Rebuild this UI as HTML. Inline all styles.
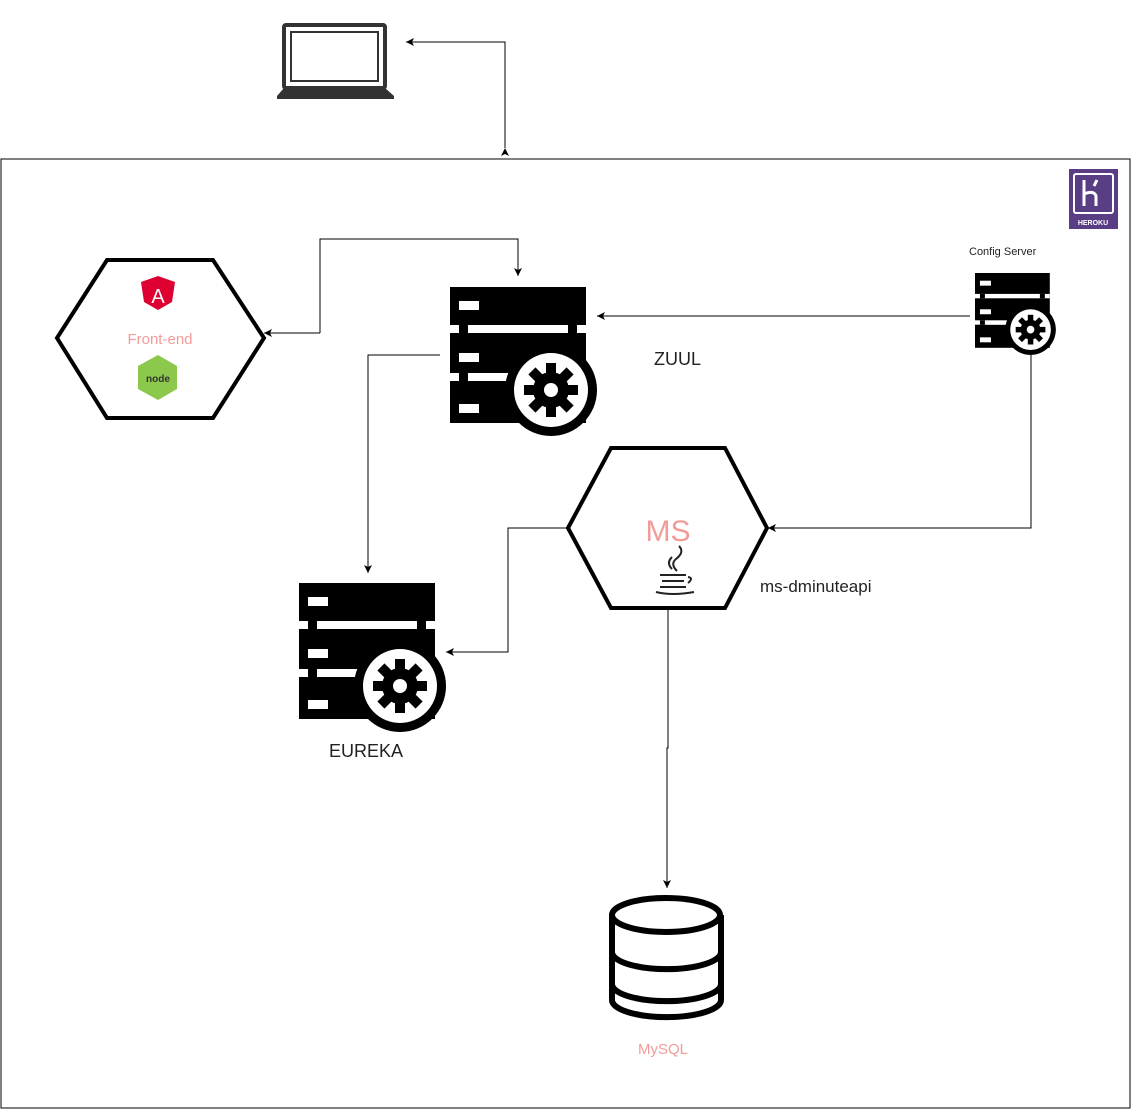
<!DOCTYPE html>
<html><head><style>body{margin:0;background:#fff}svg{display:block;font-family:"Liberation Sans",Arial,sans-serif}</style></head>
<body>
<svg width="1142" height="1110" viewBox="0 0 1142 1110">
<defs>
<marker id="a" markerWidth="9" markerHeight="9" refX="8" refY="4.5" orient="auto" markerUnits="userSpaceOnUse"><path d="M0,0.5 L8,4.5 L0,8.5 L2,4.5z" fill="#000"/></marker>
<g id="srv">
<rect x="0" y="0" width="136" height="136" fill="#000"/>
<rect x="0" y="38" width="136" height="8" fill="#fff"/>
<rect x="0" y="86" width="136" height="8" fill="#fff"/>
<rect x="9" y="38" width="9" height="8" fill="#000"/><rect x="118" y="38" width="9" height="8" fill="#000"/>
<rect x="9" y="86" width="9" height="8" fill="#000"/>
<rect x="9" y="14" width="20" height="9" fill="#fff"/>
<rect x="9" y="66" width="20" height="9" fill="#fff"/>
<rect x="9" y="117" width="20" height="9" fill="#fff"/>
<rect x="20" y="88" width="46" height="6" fill="#fff"/>
<circle cx="101" cy="103" r="46" fill="#000"/>
<circle cx="101" cy="103" r="37" fill="#fff"/>
<g transform="translate(101,103)" fill="#000">
<circle r="18"/>
<g id="t"><rect x="-5" y="-27" width="10" height="12"/></g>
<use href="#t" transform="rotate(45)"/><use href="#t" transform="rotate(90)"/><use href="#t" transform="rotate(135)"/>
<use href="#t" transform="rotate(180)"/><use href="#t" transform="rotate(225)"/><use href="#t" transform="rotate(270)"/><use href="#t" transform="rotate(315)"/>
<circle r="7" fill="#fff"/>
</g>
</g>
</defs>
<rect x="1" y="159" width="1129" height="949" fill="none" stroke="#000" stroke-width="1"/>
<!-- laptop -->
<rect x="284" y="25" width="101" height="63" rx="2" fill="none" stroke="#333" stroke-width="4"/>
<rect x="291" y="32" width="87" height="49" fill="none" stroke="#333" stroke-width="2"/>
<path d="M284,88 L277,96 L277,99 L394,99 L394,96 L385,88" fill="#333"/>
<!-- heroku -->
<rect x="1069" y="169" width="49" height="60" fill="#5a3e85"/>
<rect x="1074" y="174" width="39" height="39" rx="2" fill="none" stroke="#fff" stroke-width="2"/>
<path d="M1084,180 v26 M1084,194 q10,-4 12,2 v10 M1097,180 l-3,6" stroke="#fff" stroke-width="3" fill="none"/>
<text x="1093" y="225" font-size="7" font-weight="bold" fill="#fff" text-anchor="middle">HEROKU</text>
<!-- connectors -->
<g fill="none" stroke="#000" stroke-width="1">
<polyline points="505,148 505,42 406,42" marker-end="url(#a)" marker-start="url(#a)"/>
<polyline points="320,333 320,239 518,239 518,276" marker-end="url(#a)"/>
<line x1="320" y1="333" x2="264" y2="333" marker-end="url(#a)"/>
<line x1="970" y1="316" x2="597" y2="316" marker-end="url(#a)"/>
<polyline points="440,355 368,355 368,573" marker-end="url(#a)"/>
<polyline points="1031,355 1031,528 768,528" marker-end="url(#a)"/>
<polyline points="568,528 508,528 508,652 446,652" marker-end="url(#a)"/>
<polyline points="668,608 668,748 667,748 667,888" marker-end="url(#a)"/>
</g>
<!-- hexagons -->
<polygon points="57,338 107,260 213,260 264,338 213,418 107,418" fill="#fff" stroke="#000" stroke-width="4"/>
<polygon points="568,528 611,448 725,448 767,528 725,608 611,608" fill="#fff" stroke="#000" stroke-width="4"/>
<!-- angular -->
<polygon points="158,276 175,282 172,302 158,310 144,302 141,282" fill="#dd0031"/>
<text x="158" y="303" font-size="20" fill="#fff" text-anchor="middle">A</text>
<text x="160" y="344" font-size="15" fill="#f19c99" text-anchor="middle">Front-end</text>
<polygon points="158,355 177,366 177,389 158,400 138,389 138,366" fill="#8cc84b"/>
<text x="158" y="382" font-size="10" font-weight="bold" fill="#333" text-anchor="middle">node</text>
<text x="668" y="541" font-size="30" fill="#f19c99" text-anchor="middle">MS</text>
<!-- java -->
<g fill="none" stroke="#222" stroke-width="2">
<path d="M679,546 q6,6 -3,13 q-6,5 1,12"/>
<path d="M672,557 q-6,6 0,12"/>
<path d="M660,575 h26 M688,577 q6,1 0,6"/>
<path d="M662,581 h22"/>
<path d="M660,587 h26"/>
<path d="M656,592 q16,4 38,0"/>
</g>
<!-- servers -->
<use href="#srv" transform="translate(450,287)"/>
<use href="#srv" transform="translate(299,583)"/>
<use href="#srv" transform="translate(975,273) scale(0.55)"/>
<!-- db -->
<g fill="#fff" stroke="#000" stroke-width="6">
<path d="M612,915 v85 a54,17 0 0 0 109,0 v-85"/>
<path d="M612,952 a54,17 0 0 0 109,0 M612,984 a54,17 0 0 0 109,0" fill="none"/>
<ellipse cx="666" cy="915" rx="54" ry="17"/>
</g>
<!-- labels -->
<text x="654" y="365" font-size="18" fill="#222">ZUUL</text>
<text x="760" y="592" font-size="17" fill="#222">ms-dminuteapi</text>
<text x="329" y="757" font-size="18" fill="#222">EUREKA</text>
<text x="638" y="1054" font-size="15" fill="#f19c99">MySQL</text>
<text x="969" y="255" font-size="11" fill="#222">Config Server</text>
</svg>
</body></html>
